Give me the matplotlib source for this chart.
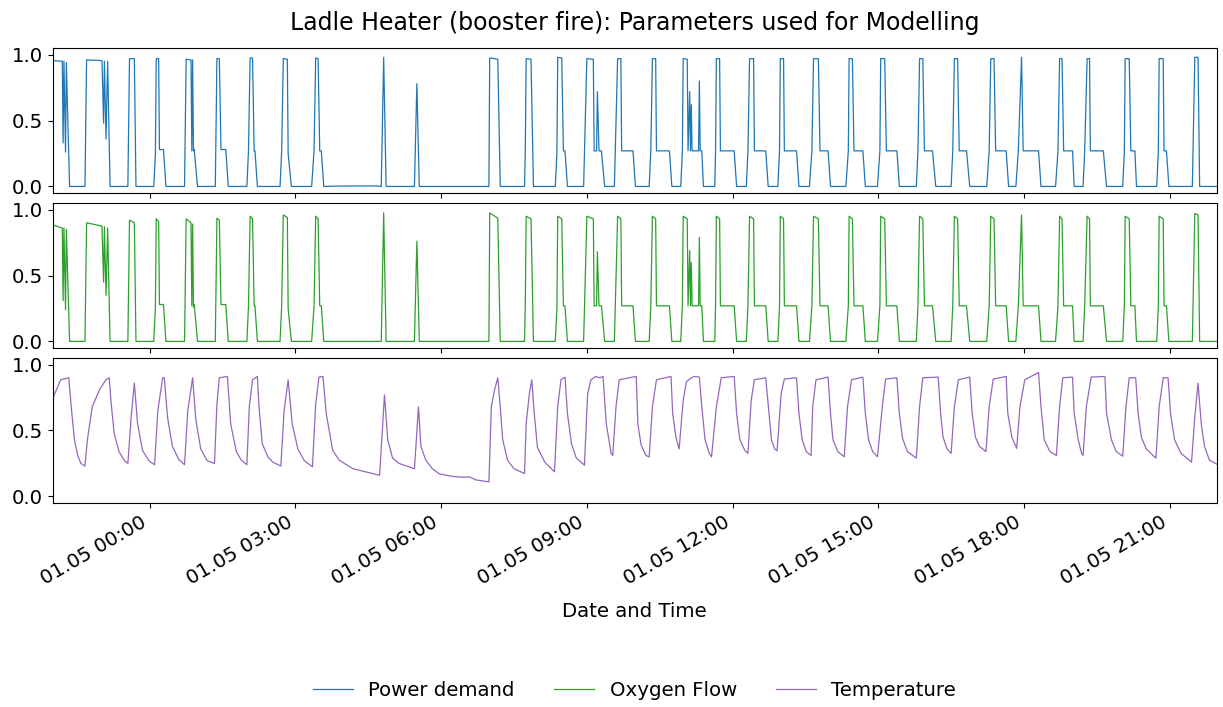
import numpy as np
import pandas as pd
import matplotlib
matplotlib.use('Agg')
import matplotlib.pyplot as plt
import matplotlib.dates as mdates


# minutes relative to 01.05 00:00, shared by power demand and oxygen flow
flow_min = [
    -120, -108, -107, -106, -104, -103, -99,
    -80, -78, -59, -57, -56, -54, -52, -49,
    -27, -25, -19, -17,
    5, 7, 8, 11, 12, 17, 20,
    43, 45, 51, 52, 53, 54, 55, 59,
    81, 83, 86, 88, 94, 97,
    120, 122, 124, 127, 129, 130, 133,
    161, 163, 165, 170, 171, 175,
    200, 203, 205, 208, 210, 212, 215,
    234, 281, 286, 289, 292, 327, 330, 333,
    419, 420, 430, 433,
    463, 464, 465, 471, 474,
    501, 503, 504, 509, 511, 513, 516,
    536, 540, 548, 549, 552, 553, 555, 558, 562,
    574, 578, 582, 583, 597, 600,
    617, 619, 621, 625, 626, 642, 645,
    656, 658, 659, 664, 665, 667, 668, 669, 670, 678, 679, 680, 682, 684,
    698, 699, 700, 704, 705, 722, 725,
    737, 739, 741, 746, 747, 761, 764,
    776, 778, 779, 783, 784, 799, 802,
    815, 818, 820, 826, 828, 838, 841,
    860, 863, 864, 868, 870, 881, 884,
    899, 902, 903, 908, 910, 923, 926,
    947, 949, 951, 955, 957, 967, 971,
    990, 992, 994, 998, 1000, 1009, 1013,
    1034, 1037, 1039, 1043, 1045, 1058, 1061,
    1070, 1073, 1077, 1079, 1098, 1101,
    1119, 1122, 1124, 1127, 1129, 1140, 1142,
    1153, 1155, 1158, 1161, 1162, 1178, 1182,
    1202, 1204, 1205, 1210, 1212, 1217, 1219,
    1244, 1246, 1247, 1252, 1253, 1256, 1259,
    1288, 1291, 1295, 1297, 1318,
]

power = [
    0.955, 0.95, 0.33, 0.95, 0.26, 0.94, 0.0,
    0.0, 0.96, 0.955, 0.48, 0.95, 0.36, 0.95, 0.0,
    0.0, 0.97, 0.97, 0.0,
    0.0, 0.25, 0.97, 0.97, 0.28, 0.28, 0.0,
    0.0, 0.965, 0.96, 0.27, 0.96, 0.27, 0.28, 0.0,
    0.0, 0.97, 0.97, 0.28, 0.28, 0.0,
    0.0, 0.27, 0.975, 0.975, 0.27, 0.27, 0.0,
    0.0, 0.27, 0.97, 0.965, 0.25, 0.0,
    0.0, 0.27, 0.975, 0.97, 0.27, 0.27, 0.0,
    0.003, 0.004, 0.0, 0.98, 0.0, 0.0, 0.78, 0.0,
    0.0, 0.975, 0.965, 0.0,
    0.0, 0.3, 0.97, 0.965, 0.0,
    0.0, 0.25, 0.98, 0.975, 0.27, 0.27, 0.0,
    0.0, 0.97, 0.965, 0.27, 0.27, 0.72, 0.27, 0.27, 0.0,
    0.0, 0.97, 0.97, 0.27, 0.27, 0.0,
    0.0, 0.27, 0.97, 0.97, 0.27, 0.27, 0.0,
    0.0, 0.27, 0.97, 0.965, 0.27, 0.72, 0.27, 0.62, 0.27, 0.27, 0.8, 0.27, 0.27, 0.0,
    0.0, 0.27, 0.97, 0.97, 0.27, 0.27, 0.0,
    0.0, 0.27, 0.97, 0.97, 0.27, 0.27, 0.0,
    0.0, 0.27, 0.97, 0.97, 0.27, 0.27, 0.0,
    0.0, 0.27, 0.97, 0.97, 0.27, 0.27, 0.0,
    0.0, 0.27, 0.97, 0.97, 0.27, 0.27, 0.0,
    0.0, 0.27, 0.97, 0.97, 0.27, 0.27, 0.0,
    0.0, 0.27, 0.97, 0.97, 0.27, 0.27, 0.0,
    0.0, 0.27, 0.97, 0.97, 0.27, 0.27, 0.0,
    0.0, 0.27, 0.97, 0.97, 0.27, 0.27, 0.0,
    0.0, 0.27, 0.98, 0.27, 0.27, 0.0,
    0.0, 0.27, 0.97, 0.97, 0.27, 0.27, 0.0,
    0.0, 0.27, 0.97, 0.97, 0.27, 0.27, 0.0,
    0.0, 0.27, 0.97, 0.97, 0.27, 0.27, 0.0,
    0.0, 0.27, 0.97, 0.97, 0.27, 0.27, 0.0,
    0.0, 0.98, 0.98, 0.0, 0.0,
]

oxygen = [
    0.885, 0.86, 0.31, 0.86, 0.24, 0.85, 0.0,
    0.0, 0.90, 0.875, 0.45, 0.87, 0.35, 0.86, 0.0,
    0.0, 0.92, 0.90, 0.0,
    0.0, 0.25, 0.93, 0.91, 0.28, 0.28, 0.0,
    0.0, 0.93, 0.90, 0.27, 0.89, 0.26, 0.28, 0.0,
    0.0, 0.935, 0.92, 0.28, 0.28, 0.0,
    0.0, 0.27, 0.95, 0.93, 0.27, 0.27, 0.0,
    0.0, 0.27, 0.96, 0.94, 0.25, 0.0,
    0.0, 0.27, 0.95, 0.93, 0.27, 0.27, 0.0,
    0.0, 0.0, 0.0, 0.975, 0.0, 0.0, 0.76, 0.0,
    0.0, 0.975, 0.935, 0.0,
    0.0, 0.3, 0.95, 0.93, 0.0,
    0.0, 0.25, 0.95, 0.93, 0.27, 0.27, 0.0,
    0.0, 0.95, 0.93, 0.27, 0.27, 0.68, 0.27, 0.27, 0.0,
    0.0, 0.95, 0.93, 0.27, 0.27, 0.0,
    0.0, 0.27, 0.95, 0.93, 0.27, 0.27, 0.0,
    0.0, 0.27, 0.95, 0.93, 0.27, 0.69, 0.27, 0.6, 0.27, 0.27, 0.79, 0.27, 0.27, 0.0,
    0.0, 0.27, 0.95, 0.93, 0.27, 0.27, 0.0,
    0.0, 0.27, 0.95, 0.93, 0.27, 0.27, 0.0,
    0.0, 0.27, 0.95, 0.93, 0.27, 0.27, 0.0,
    0.0, 0.27, 0.95, 0.93, 0.27, 0.27, 0.0,
    0.0, 0.27, 0.95, 0.93, 0.27, 0.27, 0.0,
    0.0, 0.27, 0.95, 0.93, 0.27, 0.27, 0.0,
    0.0, 0.27, 0.95, 0.93, 0.27, 0.27, 0.0,
    0.0, 0.27, 0.95, 0.93, 0.27, 0.27, 0.0,
    0.0, 0.27, 0.95, 0.93, 0.27, 0.27, 0.0,
    0.0, 0.27, 0.96, 0.27, 0.27, 0.0,
    0.0, 0.27, 0.95, 0.93, 0.27, 0.27, 0.0,
    0.0, 0.27, 0.95, 0.93, 0.27, 0.27, 0.0,
    0.0, 0.27, 0.95, 0.93, 0.27, 0.27, 0.0,
    0.0, 0.27, 0.95, 0.93, 0.27, 0.27, 0.0,
    0.0, 0.97, 0.96, 0.0, 0.0,
]

temp_min = [
    -120, -110, -100, -97, -93, -89, -85, -80, -77, -71, -62, -54, -50, -48, -44,
    -38, -31, -27, -23, -19, -15, -9, -1, 6, 10, 16, 18, 22, 28, 36,
    43, 47, 53, 57, 63, 71, 80, 83, 86, 96, 100, 107, 113, 120, 123,
    127, 133, 135, 139, 146, 152, 162, 166, 171, 176, 183, 191, 201, 205, 209,
    214, 218, 226, 234, 251, 267, 284, 290, 294, 300, 308, 327, 332, 335, 341,
    349, 358, 376, 387, 395, 403, 419, 422, 426, 430, 433, 436, 442, 450, 463,
    465, 469, 472, 475, 479, 488, 500, 504, 508, 513, 516, 521, 527, 537, 541,
    545, 551, 556, 560, 564, 570, 572, 576, 580, 601, 603, 607, 613, 617, 621,
    626, 644, 646, 650, 654, 659, 663, 669, 673, 679, 682, 686, 691, 694, 700,
    706, 722, 725, 729, 735, 739, 743, 747, 761, 765, 768, 772, 775, 780, 784,
    799, 802, 806, 811, 817, 819, 823, 838, 841, 844, 850, 858, 862, 867, 881,
    884, 888, 893, 899, 905, 909, 923, 926, 930, 936, 947, 951, 955, 974, 977,
    980, 985, 990, 994, 999, 1013, 1016, 1020, 1025, 1033, 1037, 1042, 1058, 1060, 1065,
    1070, 1071, 1075, 1081, 1098, 1101, 1105, 1112, 1120, 1124, 1128, 1140, 1142, 1147, 1151,
    1153, 1157, 1163, 1180, 1182, 1188, 1194, 1202, 1206, 1210, 1218, 1221, 1225, 1231, 1243,
    1247, 1252, 1258, 1261, 1266, 1274, 1287, 1291, 1295, 1299, 1303, 1309, 1318,
]

temperature = [
    0.74, 0.885, 0.90, 0.68, 0.43, 0.31, 0.25, 0.23, 0.43, 0.68, 0.81, 0.885, 0.90, 0.73, 0.48,
    0.34, 0.27, 0.25, 0.60, 0.86, 0.55, 0.35, 0.27, 0.24, 0.65, 0.90, 0.90, 0.60, 0.38, 0.28,
    0.24, 0.65, 0.90, 0.58, 0.36, 0.27, 0.25, 0.70, 0.90, 0.91, 0.55, 0.34, 0.275, 0.24, 0.68,
    0.885, 0.91, 0.68, 0.40, 0.30, 0.26, 0.23, 0.65, 0.885, 0.55, 0.36, 0.27, 0.224, 0.70, 0.905,
    0.91, 0.63, 0.35, 0.275, 0.21, 0.186, 0.16, 0.77, 0.43, 0.29, 0.25, 0.21, 0.68, 0.38, 0.275,
    0.21, 0.17, 0.15, 0.145, 0.148, 0.125, 0.11, 0.68, 0.81, 0.90, 0.68, 0.43, 0.275, 0.21, 0.173,
    0.55, 0.78, 0.885, 0.63, 0.37, 0.26, 0.186, 0.68, 0.885, 0.905, 0.63, 0.40, 0.29, 0.237, 0.78,
    0.885, 0.91, 0.90, 0.91, 0.55, 0.326, 0.31, 0.68, 0.885, 0.91, 0.55, 0.39, 0.31, 0.30, 0.68,
    0.885, 0.91, 0.63, 0.45, 0.36, 0.73, 0.87, 0.90, 0.91, 0.905, 0.68, 0.43, 0.33, 0.30, 0.68,
    0.90, 0.91, 0.63, 0.43, 0.35, 0.326, 0.73, 0.885, 0.90, 0.63, 0.43, 0.36, 0.346, 0.78, 0.89,
    0.90, 0.63, 0.43, 0.34, 0.31, 0.68, 0.885, 0.905, 0.63, 0.43, 0.34, 0.30, 0.68, 0.885, 0.905,
    0.63, 0.43, 0.34, 0.30, 0.68, 0.89, 0.90, 0.63, 0.44, 0.34, 0.29, 0.68, 0.90, 0.905, 0.63,
    0.45, 0.36, 0.326, 0.68, 0.885, 0.905, 0.63, 0.45, 0.38, 0.34, 0.68, 0.89, 0.91, 0.63, 0.45,
    0.377, 0.364, 0.68, 0.885, 0.94, 0.68, 0.43, 0.34, 0.31, 0.68, 0.90, 0.905, 0.63, 0.43, 0.33,
    0.31, 0.68, 0.905, 0.91, 0.63, 0.43, 0.34, 0.305, 0.68, 0.90, 0.90, 0.63, 0.45, 0.36, 0.29,
    0.68, 0.90, 0.90, 0.63, 0.43, 0.326, 0.26, 0.60, 0.86, 0.55, 0.38, 0.275, 0.245,
]

day_start = pd.Timestamp('2023-01-05 00:00')
flow_time = day_start + pd.to_timedelta(flow_min, unit='min')
temp_time = day_start + pd.to_timedelta(temp_min, unit='min')

plt.rcParams['font.size'] = 14.2

fig, axes = plt.subplots(3, 1, sharex=True, figsize=(12.23, 7.07), dpi=100)
fig.subplots_adjust(left=0.043, right=0.9948, top=0.932, bottom=0.2886, hspace=0.069)

axes[0].plot(flow_time, power, color='tab:blue', lw=0.9, label='Power demand')
axes[1].plot(flow_time, oxygen, color='tab:green', lw=0.9, label='Oxygen Flow')
axes[2].plot(temp_time, temperature, color='tab:purple', lw=0.9, label='Temperature')

for ax in axes:
    ax.set_ylim(-0.05, 1.05)
    ax.set_yticks([0.0, 0.5, 1.0])

axes[2].set_xlim(flow_time[0], flow_time[-1])
axes[2].xaxis.set_major_locator(mdates.HourLocator(byhour=range(0, 24, 3)))
axes[2].xaxis.set_major_formatter(mdates.DateFormatter('%m.%d %H:%M'))
plt.setp(axes[2].get_xticklabels(), rotation=30, ha='right')
axes[2].set_xlabel('Date and Time', labelpad=9.5)

fig.suptitle('Ladle Heater (booster fire): Parameters used for Modelling',
             x=0.519, y=0.967, va='center')

handles = [ax.get_lines()[0] for ax in axes]
fig.legend(handles, [h.get_label() for h in handles], loc='center',
           bbox_to_anchor=(0.519, 0.024), ncol=3, frameon=False)

plt.savefig('out.png', dpi=100)
